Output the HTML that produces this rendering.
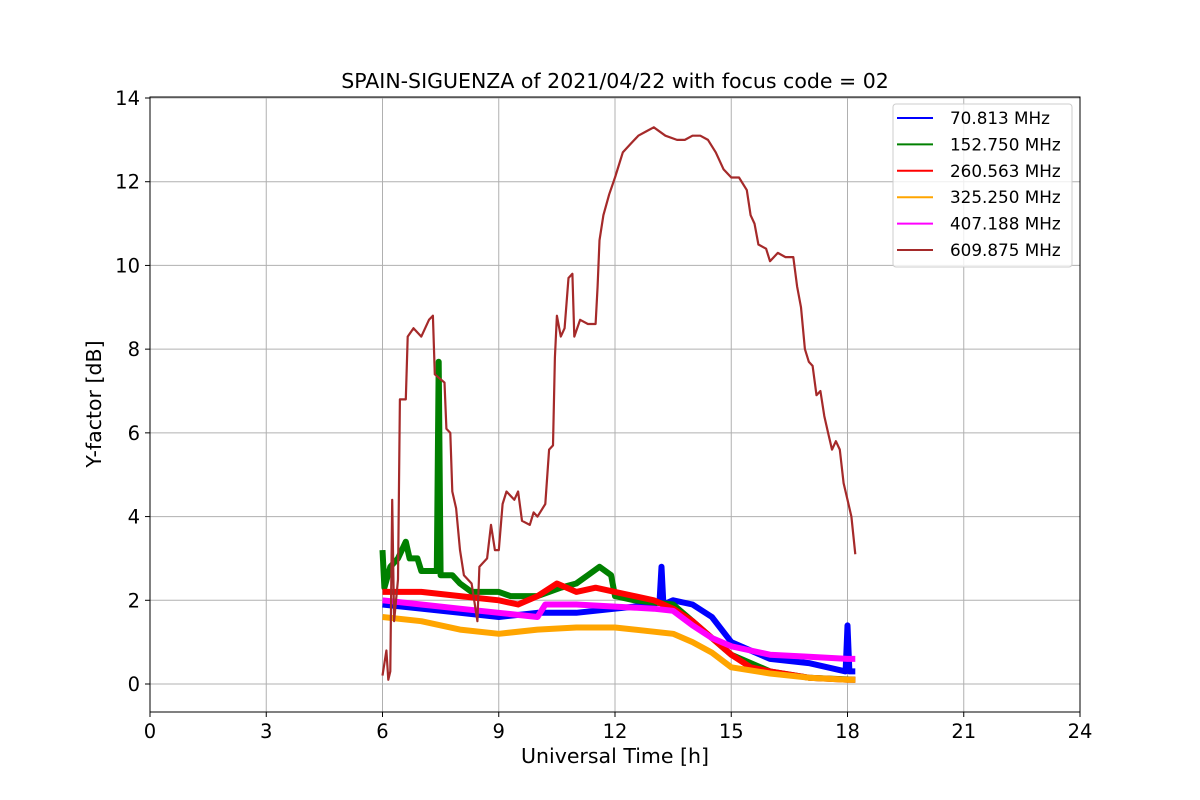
<!DOCTYPE html>
<html><head><meta charset="utf-8"><style>
body{margin:0;background:#fff;}
svg{display:block;font-family:"DejaVu Sans","Liberation Sans",sans-serif;}
</style></head><body>
<svg id="chart" width="1200" height="800">
<rect width="1200" height="800" fill="#fff"/>
<text x="615" y="88" font-size="20.5" text-anchor="middle">SPAIN-SIGUENZA of 2021/04/22 with focus code = 02</text>
<g id="grid"></g>
<g id="series"></g>
<rect x="150" y="97" width="930" height="615" fill="none" stroke="#000" stroke-width="1"/>
<g id="ticks"></g>
<text x="615" y="763" font-size="20.5" text-anchor="middle">Universal Time [h]</text>
<text transform="translate(101,404) rotate(-90)" font-size="20.5" text-anchor="middle">Y-factor [dB]</text>
<g id="legend"></g>
</svg>
<script>
const xTicks=[0,3,6,9,12,15,18,21,24];
const yTicks=[0,2,4,6,8,10,12,14];
const names=[" 70.813 MHz","152.750 MHz","260.563 MHz","325.250 MHz","407.188 MHz","609.875 MHz"];
const colors=["blue","green","red","orange","magenta","brown"];
const blueT=[6,7,8,9,10,11,12,13,13.15,13.2,13.25,13.5,14,14.5,15,15.5,16,17,17.95,18.0,18.05,18.2];
const blueV=[1.9,1.8,1.7,1.6,1.7,1.7,1.8,1.9,2.0,2.8,1.9,2.0,1.9,1.6,1.0,0.8,0.6,0.5,0.3,1.4,0.3,0.3];
const greenT=[6,6.05,6.2,6.4,6.6,6.7,6.9,7.0,7.4,7.45,7.5,7.8,8.0,8.3,8.6,9.0,9.3,9.6,10.0,10.3,10.6,11.0,11.3,11.6,11.9,12.0,12.5,13.5,14,14.5,15,16,17,18.2];
const greenV=[3.2,2.3,2.8,3.0,3.4,3.0,3.0,2.7,2.7,7.7,2.6,2.6,2.4,2.2,2.2,2.2,2.1,2.1,2.1,2.2,2.3,2.4,2.6,2.8,2.6,2.1,2.0,1.9,1.5,1.1,0.7,0.3,0.15,0.1];
const redT=[6,7,8,9,9.5,10,10.5,11,11.5,12,13,13.5,14,14.5,15,15.5,16,17,18,18.2];
const redV=[2.2,2.2,2.1,2.0,1.9,2.1,2.4,2.2,2.3,2.2,2.0,1.8,1.5,1.1,0.7,0.4,0.3,0.15,0.1,0.1];
const orangeT=[6,7,8,9,10,11,12,13,13.5,14,14.5,15,16,17,18,18.2];
const orangeV=[1.6,1.5,1.3,1.2,1.3,1.35,1.35,1.25,1.2,1.0,0.75,0.4,0.25,0.15,0.1,0.1];
const magentaT=[6,7,8,9,10,10.2,11,12,13,13.5,14,14.5,15,15.5,16,17,18,18.2];
const magentaV=[2.0,1.9,1.8,1.7,1.6,1.9,1.9,1.85,1.8,1.75,1.4,1.1,0.9,0.8,0.7,0.65,0.6,0.6];
const brownT=[6.0,6.1,6.15,6.2,6.25,6.3,6.4,6.45,6.6,6.65,6.8,7.0,7.2,7.3,7.35,7.6,7.65,7.75,7.8,7.9,8.0,8.1,8.3,8.45,8.5,8.7,8.8,8.9,9.0,9.1,9.2,9.4,9.5,9.6,9.8,9.9,10.0,10.2,10.3,10.4,10.45,10.5,10.6,10.7,10.8,10.9,10.95,11.1,11.3,11.5,11.55,11.6,11.7,11.85,12.0,12.2,12.4,12.6,12.8,13.0,13.3,13.6,13.8,14.0,14.2,14.4,14.6,14.8,15.0,15.2,15.4,15.5,15.6,15.7,15.9,16.0,16.2,16.4,16.5,16.6,16.7,16.8,16.9,17.0,17.1,17.2,17.3,17.4,17.5,17.6,17.7,17.8,17.9,18.0,18.1,18.2];
const brownV=[0.2,0.8,0.1,0.3,4.4,1.5,2.5,6.8,6.8,8.3,8.5,8.3,8.7,8.8,7.4,7.2,6.1,6.0,4.6,4.2,3.2,2.6,2.4,1.5,2.8,3.0,3.8,3.2,3.2,4.3,4.6,4.4,4.6,3.9,3.8,4.1,4.0,4.3,5.6,5.7,7.8,8.8,8.3,8.5,9.7,9.8,8.3,8.7,8.6,8.6,9.5,10.6,11.2,11.7,12.1,12.7,12.9,13.1,13.2,13.3,13.1,13.0,13.0,13.1,13.1,13.0,12.7,12.3,12.1,12.1,11.8,11.2,11.0,10.5,10.4,10.1,10.3,10.2,10.2,10.2,9.5,9.0,8.0,7.7,7.6,6.9,7.0,6.4,6.0,5.6,5.8,5.6,4.8,4.4,4.0,3.1];
const seriesT=[blueT,greenT,redT,orangeT,magentaT,brownT];
const seriesV=[blueV,greenV,redV,orangeV,magentaV,brownV];
const NS="http://www.w3.org/2000/svg";
const X=v=>150+v*38.75, Y=v=>684-v*41.857;
function mk(t,a,p){const e=document.createElementNS(NS,t);for(const k in a)e.setAttribute(k,a[k]);p.appendChild(e);return e;}
const grid=document.getElementById('grid'),ticks=document.getElementById('ticks');
xTicks.forEach(t=>{
 const g=mk('line',{x1:X(t),x2:X(t),y1:97,y2:712,stroke:'#b0b0b0','stroke-width':1},grid);
 
 
 mk('line',{x1:X(t),x2:X(t),y1:712,y2:717,stroke:'#000'},ticks);
 const tx=mk('text',{x:X(t),y:738,'font-size':19.5,'text-anchor':'middle'},ticks);tx.textContent=t;
 
 
});
yTicks.forEach(t=>{
 const g=mk('line',{x1:150,x2:1080,y1:Y(t),y2:Y(t),stroke:'#b0b0b0','stroke-width':1},grid);
 
 
 mk('line',{x1:145,x2:150,y1:Y(t),y2:Y(t),stroke:'#000'},ticks);
 const tx=mk('text',{x:140,y:Y(t)+7,'font-size':19.5,'text-anchor':'end'},ticks);tx.textContent=t;
 
 
});
const sg=document.getElementById('series');
seriesT.forEach((ts,i)=>{
 const pts=ts.map((t,j)=>X(t).toFixed(1)+','+Y(seriesV[i][j]).toFixed(1)).join(' ');
 const p=mk('polyline',{points:pts,fill:'none',stroke:colors[i],'stroke-width':i==5?2.2:6,'stroke-linejoin':'round'},sg);
 
 
});
const lg=document.getElementById('legend');
mk('rect',{x:893,y:104,width:179,height:163,rx:3,fill:'#fff','fill-opacity':0.8,stroke:'#ccc'},lg);
names.forEach((n,i)=>{
 const y=118+i*26.4;
 mk('line',{x1:897,x2:933,y1:y,y2:y,stroke:colors[i],'stroke-width':2},lg);
 const t=mk('text',{x:950,y:y+6,'font-size':16.8,'xml:space':'preserve'},lg);t.textContent=n;
 
 
});
</script>
</body></html>
